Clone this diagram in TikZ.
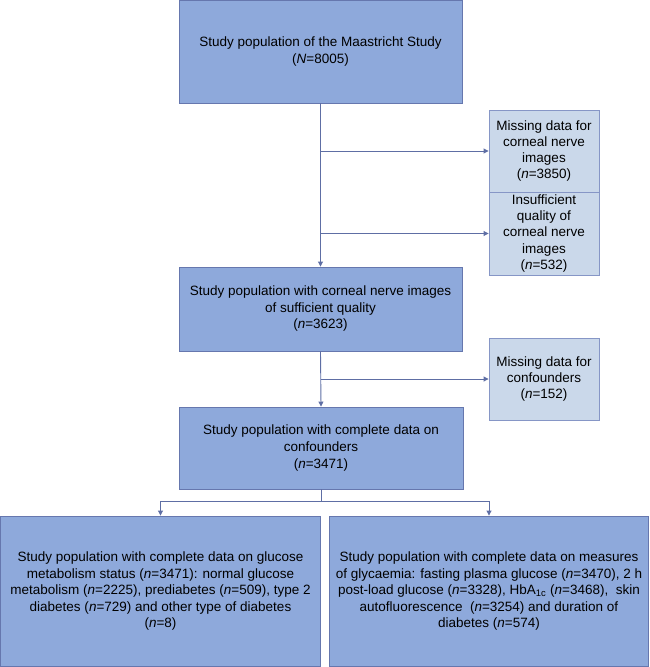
\documentclass[tikz,border=0pt]{standalone}
\usepackage{fontspec}
\setmainfont{Liberation Sans}
\usetikzlibrary{arrows.meta}
\definecolor{mainfill}{HTML}{8EA9DB}
\definecolor{mainedge}{HTML}{6677AE}
\definecolor{sidefill}{HTML}{CAD8EA}
\definecolor{sideedge}{HTML}{8696C6}
\definecolor{linecol}{HTML}{5E6EA4}
\tikzset{
  mainbox/.style={draw=mainedge, fill=mainfill, line width=0.9pt, align=center, inner sep=0pt,
    font=\fontsize{13.5}{16.5}\selectfont},
  sidebox/.style={draw=sideedge, fill=sidefill, line width=0.9pt, align=center, inner sep=0pt,
    minimum width=110pt, font=\fontsize{13.5}{16.2}\selectfont},
  arr/.style={draw=linecol, line width=0.9pt, -{Triangle[length=5pt,width=5pt]}}
}
\newcommand{\nn}{\textit{n}}
\begin{document}
\begin{tikzpicture}[x=1pt,y=1pt]
\useasboundingbox (0,0) rectangle (650,-667);
\node[mainbox, minimum width=283pt, minimum height=103pt] (top) at (320.5,-51.5)
  {Study population of the Maastricht Study\\(\textit{N}=8005)};
\node[sidebox, minimum height=82pt] (r1) at (544,-151)
  {Missing data for\\corneal nerve\\images\\(\nn=3850)};
\node[sidebox, minimum height=83pt] (r2) at (544,-233.5)
  {Insufficient\\quality of\\corneal nerve\\images\\(\nn=532)};
\node[mainbox, minimum width=283pt, minimum height=84pt] (mid) at (320.5,-309)
  {Study population with corneal nerve images\\of sufficient quality\\(\nn=3623)};
\node[sidebox, minimum height=82pt] (r3) at (544,-379)
  {Missing data for\\confounders\\(\nn=152)};
\node[mainbox, minimum width=284pt, minimum height=82pt] (conf) at (321,-448)
  {Study population with complete data on\\confounders\\(\nn=3471)};
\node[mainbox, minimum width=320pt, minimum height=150pt] (bl) at (160.5,-591)
  {Study population with complete data on glucose\\metabolism status (\nn=3471): normal glucose\\metabolism (\nn=2225), prediabetes (\nn=509), type 2\\diabetes (\nn=729) and other type of diabetes\\(\nn=8)};
\node[mainbox, minimum width=319pt, minimum height=150pt] (br) at (489,-591)
  {Study population with complete data on measures\\of glycaemia: fasting plasma glucose (\nn=3470), 2 h\\post-load glucose (\nn=3328), HbA\textsubscript{1c} (\nn=3468),~ skin\\autofluorescence~ (\nn=3254) and duration of\\diabetes (\nn=574)};
\draw[arr] (top.south) -- (mid.north);
\draw[arr] (top.south |- r1.west) -- (r1.west);
\draw[arr] (top.south |- r2.west) -- (r2.west);
\draw[arr] (mid.south) -- (conf.north);
\draw[arr] (mid.south |- r3.west) -- (r3.west);
\draw[arr] (conf.south) -- ++(0,-12) -| (bl.north);
\draw[arr] (conf.south) -- ++(0,-12) -| (br.north);
\end{tikzpicture}
\end{document}
